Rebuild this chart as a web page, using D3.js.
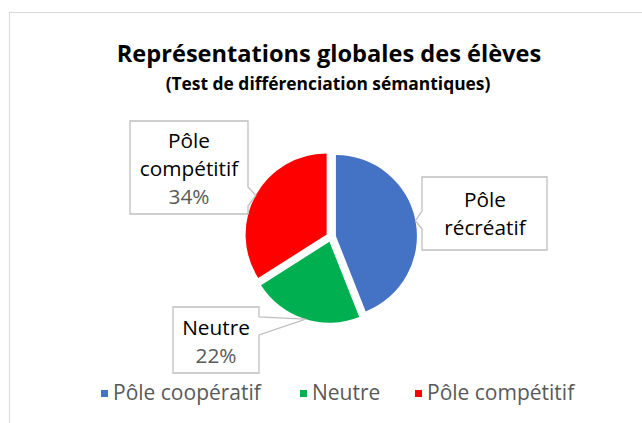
<!DOCTYPE html>
<html><head><meta charset="utf-8">
<script src="https://cdn.jsdelivr.net/npm/d3@7"></script>
<style>
html,body{margin:0;padding:0;background:#fff;}
svg{display:block;font-family:"Open Sans","Liberation Sans",sans-serif;}
</style></head>
<body>
<svg id="c" width="642" height="423"></svg>
<script>
// ---- data ----
const categories = ["Pôle coopératif", "Neutre", "Pôle compétitif"];
const values = [44, 22, 34];
const colors = ["#4472C4", "#00B050", "#FF0000"];
const labelNames = [["Pôle", "récréatif"], ["Neutre"], ["Pôle", "compétitif"]];
const showPercent = [false, true, true];
const title = "Représentations globales des élèves";
const subtitle = "(Test de différenciation sémantiques)";

// ---- layout ----
const cx = 331, cy = 237, R = 81, explode = 5;
const boxes = [
  {x0: 422, y0: 177, x1: 547, y1: 250, side: "left",  b0: 211, b1: 229, tipDeg: 79, tx: 485, ty: 207},
  {x0: 173, y0: 307, x1: 259, y1: 373, side: "right", b0: 317, b1: 335, tipDeg: 197, tx: 216, ty: 335},
  {x0: 130, y0: 121, x1: 248, y1: 214, side: "right", b0: 187, b1: 206, tipDeg: 299, tx: 189, ty: 148}
];
const lineH = 28;
const legTextX = [113, 312, 427];

const svg = d3.select("#c");
svg.append("rect").attr("x", 9.5).attr("y", 12.5).attr("width", 700).attr("height", 500)
  .attr("fill", "#fff").attr("stroke", "#D9D9D9").attr("stroke-width", 1);

svg.append("text").attr("x", 329).attr("y", 62).attr("text-anchor", "middle")
  .attr("font-size", 23.6).attr("font-weight", "bold").attr("fill", "#000").text(title);
svg.append("text").attr("x", 328).attr("y", 90).attr("text-anchor", "middle")
  .attr("font-size", 17.4).attr("font-weight", "bold").attr("fill", "#000").text(subtitle);

const pie = d3.pie().sort(null).value(d => d)(values);
const arc = d3.arc().innerRadius(0).outerRadius(R);
const total = d3.sum(values);

pie.forEach((p, i) => {
  const mid = (p.startAngle + p.endAngle) / 2;
  const ox = cx + explode * Math.sin(mid), oy = cy - explode * Math.cos(mid);
  svg.append("path").attr("d", arc(p)).attr("transform", `translate(${ox},${oy})`)
    .attr("fill", colors[i]);
  p.ox = ox; p.oy = oy;
});

boxes.forEach((b, i) => {
  const p = pie[i];
  const a = b.tipDeg * Math.PI / 180;
  const tx = p.ox + R * Math.sin(a), ty = p.oy - R * Math.cos(a);
  let pts;
  if (b.side === "left") {
    pts = [[b.x0, b.y0], [b.x1, b.y0], [b.x1, b.y1], [b.x0, b.y1], [b.x0, b.b1], [tx, ty], [b.x0, b.b0]];
  } else {
    pts = [[b.x0, b.y0], [b.x1, b.y0], [b.x1, b.b0], [tx, ty], [b.x1, b.b1], [b.x1, b.y1], [b.x0, b.y1]];
  }
  svg.append("path").attr("d", d3.line()(pts) + "Z")
    .attr("fill", "#fff").attr("stroke", "#BFBFBF").attr("stroke-width", 1.3);
  const lines = labelNames[i];
  const t = svg.append("text").attr("text-anchor", "middle").attr("font-size", 20.8);
  lines.forEach((l, k) => {
    t.append("tspan").attr("x", b.tx).attr("y", b.ty + k * lineH).attr("fill", "#000").text(l);
  });
  if (showPercent[i]) {
    t.append("tspan").attr("x", b.tx).attr("y", b.ty + lines.length * lineH).attr("fill", "#595959")
      .text(Math.round(values[i] / total * 100) + "%");
  }
});

// legend
const leg = svg.append("g");
categories.forEach((c, i) => {
  leg.append("rect").attr("x", legTextX[i] - 12).attr("y", 390).attr("width", 7).attr("height", 7).attr("fill", colors[i]);
  leg.append("text").attr("x", legTextX[i]).attr("y", 400).attr("font-size", 21).attr("fill", "#595959").text(c);
});
</script>
</body></html>
